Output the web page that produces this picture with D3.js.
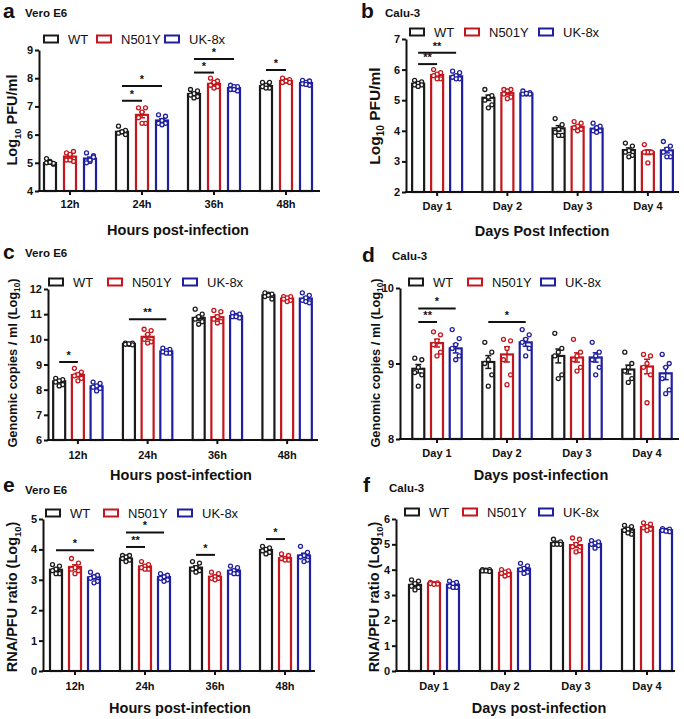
<!DOCTYPE html>
<html><head><meta charset="utf-8">
<script src="https://cdn.jsdelivr.net/npm/d3@7"></script>
<style>
body{margin:0;background:#fff;}
svg{font-family:"Liberation Sans",Arial,sans-serif;}
</style></head>
<body><svg id="chart" width="684" height="719"></svg>
<script>
// ---------- DATA ----------
const hourCats = ["12h","24h","36h","48h"];
const dayCats = ["Day 1","Day 2","Day 3","Day 4"];
const seriesNames = ["WT","N501Y","UK-8x"];

// Panel a: Vero E6, Log10 PFU/ml
const aTicks = [4,5,6,7,8,9];
const aMeans = [[4.99,6.10,7.44,7.72],[5.22,6.70,7.80,7.90],[5.15,6.50,7.65,7.83]];
const aPoints = [
  [[5.0,4.95,5.05,5.15,4.98,5.02],[6.3,6.15,6.1,6.05,6.0,6.1],[7.6,7.55,7.45,7.4,7.35,7.3],[7.85,7.85,7.75,7.7,7.65,7.65]],
  [[5.35,5.4,5.3,5.1,5.05,5.1],[6.95,6.95,6.8,6.6,6.4,6.4],[8.0,7.9,7.85,7.75,7.7,7.65],[8.0,7.95,7.9,7.85,7.85,7.9]],
  [[5.35,5.25,5.05,5.0,5.2,5.1],[6.7,6.65,6.5,6.4,6.4,6.35],[7.75,7.7,7.7,7.6,7.55,7.6],[7.92,7.9,7.85,7.8,7.75,7.78]]
];
const aSig = [["24h",0,1,7.2,"*"],["24h",0,2,7.72,"*"],["36h",0,1,8.2,"*"],["36h",0,2,8.68,"*"],["48h",0,1,8.29,"*"]];

// Panel b: Calu-3, Log10 PFU/ml
const bTicks = [2,3,4,5,6,7];
const bMeans = [[5.54,5.08,4.08,3.37],[5.82,5.23,4.13,3.30],[5.78,5.22,4.07,3.36]];
const bPoints = [
  [[5.65,5.6,5.55,5.5,5.5,5.45],[5.35,5.15,5.1,5.0,4.85,4.75],[4.4,4.2,4.05,3.95,3.85,3.85],[3.6,3.5,3.35,3.3,3.2,3.15]],
  [[6.0,5.9,5.85,5.8,5.7,5.7],[5.35,5.35,5.3,5.2,5.1,5.05],[4.3,4.25,4.15,4.1,4.05,4.0],[3.55,3.3,3.3,3.3,3.3,2.95]],
  [[5.95,5.9,5.8,5.75,5.7,5.7],[5.3,5.25,5.2,5.2,5.2,5.22],[4.25,4.15,4.1,4.0,4.0,3.95],[3.65,3.5,3.4,3.3,3.15,3.15]]
];
const bSig = [["Day 1",0,1,6.18,"**"],["Day 1",0,2,6.55,"**"]];

// Panel c: Vero E6, Genomic copies / ml (Log10)
const cTicks = [6,7,8,9,10,11,12];
const cMeans = [[8.33,9.82,10.85,11.75],[8.58,10.10,10.88,11.62],[8.13,9.52,10.93,11.62]];
const cPoints = [
  [[8.45,8.4,8.35,8.3,8.2,8.15],[9.85,9.85,9.8,9.8,9.78,9.82],[11.2,11.0,10.9,10.8,10.7,10.6],[11.85,11.8,11.8,11.7,11.6,11.75]],
  [[8.85,8.7,8.6,8.55,8.45,8.35],[10.4,10.35,10.2,10.0,9.9,9.85],[11.15,11.1,10.9,10.8,10.7,10.65],[11.7,11.7,11.65,11.6,11.55,11.5]],
  [[8.3,8.25,8.15,8.1,8.05,7.95],[9.65,9.6,9.55,9.5,9.45,9.45],[11.05,11.0,10.95,10.9,10.85,10.9],[11.85,11.75,11.65,11.55,11.45,11.5]]
];
const cSig = [["12h",0,1,9.1,"*"],["24h",0,2,10.8,"**"]];

// Panel d: Calu-3, Genomic copies / ml (Log10)
const dTicks = [8,9,10];
const dMeans = [[8.93,9.02,9.10,8.92],[9.27,9.12,9.08,8.96],[9.20,9.28,9.08,8.87]];
const dPoints = [
  [[9.07,9.05,8.95,8.88,8.85,8.7],[9.28,9.15,9.05,9.0,8.85,8.7],[9.4,9.2,9.15,9.1,8.85,8.8],[9.15,9.0,8.95,8.9,8.8,8.75]],
  [[9.42,9.38,9.3,9.25,9.15,9.1],[9.32,9.3,9.2,9.05,8.85,8.72],[9.32,9.15,9.1,9.05,8.95,8.9],[9.12,9.1,9.0,8.95,8.85,8.48]],
  [[9.45,9.33,9.25,9.2,9.1,9.05],[9.45,9.38,9.32,9.28,9.2,9.1],[9.28,9.15,9.1,9.05,8.95,8.85],[9.12,9.0,8.95,8.8,8.65,8.6]]
];
const dSig = [["Day 1",0,1,9.55,"**"],["Day 1",0,2,9.73,"*"],["Day 2",0,2,9.55,"*"]];

// Panel e: Vero E6, RNA/PFU ratio (Log10)
const eTicks = [0,1,2,3,4,5];
const eMeans = [[3.33,3.70,3.40,3.98],[3.42,3.44,3.10,3.71],[3.08,3.09,3.30,3.80]];
const ePoints = [
  [[3.5,3.45,3.35,3.3,3.2,3.2],[3.8,3.8,3.75,3.7,3.65,3.6],[3.6,3.55,3.4,3.35,3.3,3.25],[4.1,4.05,4.0,3.95,3.9,3.85]],
  [[3.7,3.55,3.4,3.35,3.3,3.2],[3.6,3.5,3.45,3.4,3.35,3.35],[3.25,3.2,3.1,3.05,3.05,3.0],[3.85,3.8,3.7,3.7,3.65,3.65]],
  [[3.25,3.15,3.1,3.05,2.95,2.9],[3.2,3.15,3.1,3.05,3.0,2.95],[3.45,3.4,3.3,3.25,3.2,3.2],[4.1,3.9,3.8,3.75,3.65,3.6]]
];
const eSig = [["12h",0,2,3.97,"*"],["24h",0,1,4.08,"**"],["24h",0,2,4.56,"*"],["36h",0,1,3.82,"*"],["48h",0,1,4.34,"*"]];

// Panel f: Calu-3, RNA/PFU ratio (Log10)
const fTicks = [0,1,2,3,4,5,6];
const fMeans = [[3.40,3.97,5.05,5.58],[3.46,3.88,4.97,5.68],[3.41,4.04,5.02,5.56]];
const fPoints = [
  [[3.6,3.55,3.45,3.35,3.3,3.2],[4.0,4.0,3.98,3.95,3.93,3.95],[5.2,5.1,5.05,5.0,5.0,5.0],[5.75,5.7,5.6,5.55,5.4,5.45]],
  [[3.5,3.48,3.45,3.45,3.43,3.42],[4.0,3.95,3.9,3.85,3.8,3.75],[5.25,5.2,5.0,4.9,4.75,4.7],[5.85,5.8,5.7,5.65,5.6,5.55]],
  [[3.55,3.5,3.45,3.35,3.3,3.3],[4.25,4.15,4.05,4.0,3.9,3.85],[5.15,5.1,5.05,5.0,4.95,4.85],[5.62,5.6,5.55,5.55,5.5,5.52]]
];
const fSig = [];

// ---------- STYLE ----------
const colors = ["#1a1a1a","#c4161c","#1f1fa0"];
const svg = d3.select("#chart");
const jitter = [-3.5,3.5,0,-3.5,3.5,0];

function drawPanel(c) {
  const g = svg.append("g");
  const y = d3.scaleLinear().domain(c.domain).range([c.yBot, c.yTop]);
  const x = d3.scaleBand().domain(c.cats).range(c.band);
  const xs = d3.scalePoint().domain(d3.range(3)).range([-c.sub, c.sub]);
  const bw = 12;
  const cx = (cat, s) => x(cat) + x.bandwidth()/2 + xs(s);

  // bars
  c.means.forEach((ser, s) => {
    ser.forEach((m, i) => {
      const cat = c.cats[i];
      g.append("rect").attr("x", cx(cat,s)-bw/2).attr("y", y(m))
        .attr("width", bw).attr("height", c.yBot - y(m))
        .attr("fill","#fff").attr("stroke", colors[s]).attr("stroke-width",2.2);
      const pts = c.points[s][i];
      const sem = d3.deviation(pts)/Math.sqrt(pts.length);
      const ex = cx(cat,s);
      g.append("line").attr("x1",ex).attr("x2",ex).attr("y1",y(m-sem)).attr("y2",y(m+sem))
        .attr("stroke",colors[s]).attr("stroke-width",1.5);
      g.append("line").attr("x1",ex-3).attr("x2",ex+3).attr("y1",y(m+sem)).attr("y2",y(m+sem))
        .attr("stroke",colors[s]).attr("stroke-width",1.5);
      g.append("line").attr("x1",ex-3).attr("x2",ex+3).attr("y1",y(m-sem)).attr("y2",y(m-sem))
        .attr("stroke",colors[s]).attr("stroke-width",1.5);
      pts.forEach((p, k) => {
        g.append("circle").attr("cx", ex + jitter[k]).attr("cy", y(p)).attr("r",2)
          .attr("fill","#fff").attr("stroke",colors[s]).attr("stroke-width",1.3);
      });
    });
  });

  // y axis
  const ya = g.append("g").attr("transform",`translate(${c.x0},0)`)
    .call(d3.axisLeft(y).tickValues(c.ticks).tickSize(4).tickSizeOuter(0).tickFormat(d3.format("d")));
  ya.select(".domain").attr("stroke","#111").attr("stroke-width",2);
  ya.selectAll(".tick line").attr("stroke","#111").attr("stroke-width",2);
  ya.selectAll(".tick text").attr("font-size",11).attr("font-weight","bold").attr("fill","#111")
    .attr("font-family","Liberation Sans, Arial, sans-serif").attr("x",-6);

  // x axis
  const xa = g.append("g").attr("transform",`translate(0,${c.yBot})`)
    .call(d3.axisBottom(x).tickSize(4).tickSizeOuter(0));
  xa.select(".domain").remove();
  xa.append("line").attr("x1",c.x0-1).attr("x2",c.x1).attr("y1",0).attr("y2",0)
    .attr("stroke","#111").attr("stroke-width",2);
  xa.selectAll(".tick line").attr("stroke","#111").attr("stroke-width",2);
  xa.selectAll(".tick text").attr("font-size",11).attr("font-weight","bold").attr("fill","#111")
    .attr("font-family","Liberation Sans, Arial, sans-serif").attr("y",c.tickDy).attr("dy","0");

  // significance
  c.sig.forEach(([cat,a,b,lvl,lab]) => {
    const x1 = cx(cat,a), x2 = cx(cat,b), yy = y(lvl);
    g.append("line").attr("x1",x1).attr("x2",x2).attr("y1",yy).attr("y2",yy)
      .attr("stroke","#111").attr("stroke-width",2);
    g.append("text").attr("x",(x1+x2)/2).attr("y",yy-3).attr("text-anchor","middle")
      .attr("font-size",11).attr("font-weight","bold").attr("fill","#111").text(lab);
  });

  // legend
  seriesNames.forEach((n, s) => {
    const lx = c.legX[s];
    g.append("rect").attr("x",lx).attr("y",c.legY-3.5).attr("width",14).attr("height",7)
      .attr("fill","#fff").attr("stroke",colors[s]).attr("stroke-width",2);
    g.append("text").attr("x",lx+24).attr("y",c.legY+4.5).attr("font-size",13)
      .attr("fill","#111").text(n);
  });

  // panel label + cell line
  g.append("text").attr("x",c.labX).attr("y",c.labY).attr("font-size",21).attr("font-weight","bold")
    .attr("fill","#111").text(c.label);
  g.append("text").attr("x",c.cellX).attr("y",c.cellY).attr("font-size",11.5).attr("font-weight","bold")
    .attr("fill","#111").text(c.cell);

  // y title
  const yt = g.append("text").attr("transform",`translate(${c.ytX},${c.ytY}) rotate(-90)`)
    .attr("text-anchor","middle").attr("font-size",c.ytSize).attr("font-weight","bold").attr("fill","#111");
  yt.append("tspan").text(c.yt[0]);
  yt.append("tspan").attr("font-size",c.ytSize*0.65).attr("dy",c.ytSize*0.25).text("10");
  yt.append("tspan").attr("dy",-c.ytSize*0.25).text(c.yt[1]);

  // x title
  g.append("text").attr("x",c.xtX).attr("y",c.xtY).attr("text-anchor","middle")
    .attr("font-size",14.5).attr("font-weight","bold").attr("fill","#111").text(c.xt);
}

drawPanel({cats:hourCats, domain:[4,9], ticks:aTicks, means:aMeans, points:aPoints, sig:aSig,
  x0:39, x1:320, yTop:50, yBot:191, band:[34,322], sub:20, tickDy:17,
  legX:[44,97,165], legY:39, label:"a", labX:3, labY:18, cell:"Vero E6", cellX:25, cellY:17,
  yt:["Log"," PFU/ml"], ytX:17, ytY:120, ytSize:14.5, xt:"Hours post-infection", xtX:178, xtY:235});

drawPanel({cats:dayCats, domain:[2,7], ticks:bTicks, means:bMeans, points:bPoints, sig:bSig,
  x0:406, x1:679, yTop:39, yBot:192, band:[402,683], sub:19, tickDy:18,
  legX:[410,465,539], legY:32, label:"b", labX:361, labY:18, cell:"Calu-3", cellX:385, cellY:17,
  yt:["Log"," PFU/ml"], ytX:380, ytY:116, ytSize:15.5, xt:"Days Post Infection", xtX:542, xtY:236});

drawPanel({cats:hourCats, domain:[6,12], ticks:cTicks, means:cMeans, points:cPoints, sig:cSig,
  x0:48, x1:318, yTop:289, yBot:440, band:[43,322], sub:18.7, tickDy:19,
  legX:[49,108,183], legY:282, label:"c", labX:3, labY:259, cell:"Vero E6", cellX:25, cellY:257,
  yt:["Genomic copies / ml (Log",")"], ytX:17, ytY:363, ytSize:12.8, xt:"Hours post-infection", xtX:181, xtY:480});

drawPanel({cats:dayCats, domain:[8,10], ticks:dTicks, means:dMeans, points:dPoints, sig:dSig,
  x0:400, x1:679, yTop:288, yBot:439, band:[402,682], sub:18.7, tickDy:18,
  legX:[409,468,541], legY:282, label:"d", labX:362, labY:262, cell:"Calu-3", cellX:392, cellY:260,
  yt:["Genomic copies / ml (Log",")"], ytX:380, ytY:363, ytSize:12.8, xt:"Days post-infection", xtX:541, xtY:480});

drawPanel({cats:hourCats, domain:[0,5], ticks:eTicks, means:eMeans, points:ePoints, sig:eSig,
  x0:43, x1:315, yTop:519, yBot:671, band:[40,320], sub:19, tickDy:19,
  legX:[46,104,178], legY:513, label:"e", labX:3, labY:492, cell:"Vero E6", cellX:25, cellY:494,
  yt:["RNA/PFU ratio (Log",")"], ytX:17, ytY:597, ytSize:14.5, xt:"Hours post-infection", xtX:180, xtY:713});

drawPanel({cats:dayCats, domain:[0,6], ticks:fTicks, means:fMeans, points:fPoints, sig:fSig,
  x0:396, x1:675, yTop:519, yBot:671, band:[398.5,682.5], sub:19, tickDy:19,
  legX:[405,463,539], legY:512, label:"f", labX:363, labY:492, cell:"Calu-3", cellX:389, cellY:492,
  yt:["RNA/PFU ratio (Log",")"], ytX:379, ytY:597, ytSize:14.5, xt:"Days post-infection", xtX:539, xtY:713});
</script></body></html>
